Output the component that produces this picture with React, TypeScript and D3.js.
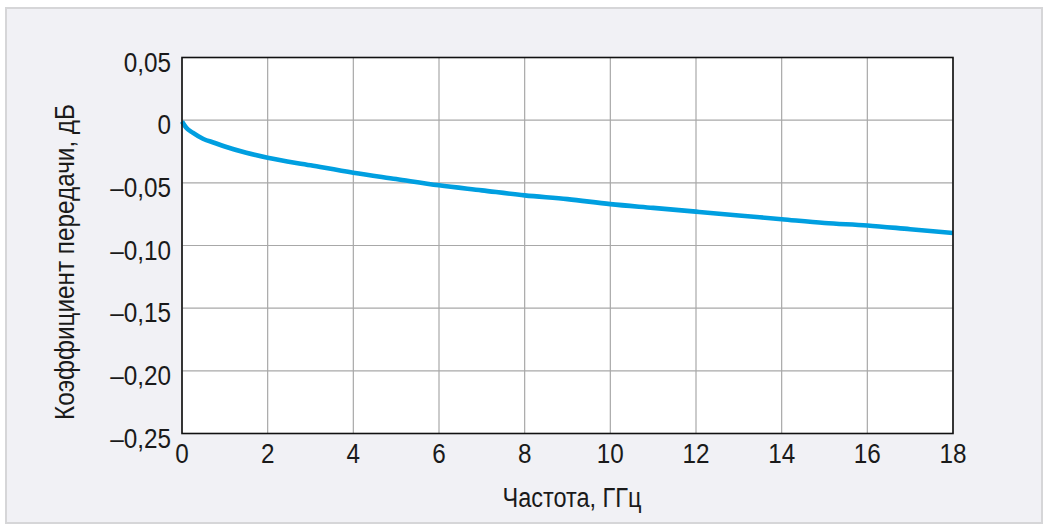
import React from "react";
import * as d3 from "d3";

const freqGHz = [0, 0.1, 0.25, 0.5, 0.75, 1, 1.5, 2, 3, 4, 5, 6, 7, 8, 9, 10, 11, 12, 13, 14, 15, 16, 17, 18];
const gainDb = [-0.001, -0.006, -0.010, -0.015, -0.018, -0.021, -0.026, -0.030, -0.036, -0.042, -0.047, -0.052, -0.056, -0.060, -0.063, -0.067, -0.070, -0.073, -0.076, -0.079, -0.082, -0.084, -0.087, -0.090];
const xTicks = [0, 2, 4, 6, 8, 10, 12, 14, 16, 18];
const yTicks = [0.05, 0, -0.05, -0.1, -0.15, -0.2, -0.25];
const yTickLabels = ["0,05", "0", "–0,05", "–0,10", "–0,15", "–0,20", "–0,25"];
const xTitle = "Частота, ГГц";
const yTitle = "Коэффициент передачи, дБ";

const W = 1049, H = 529;
const L = 182, R = 953, T = 57.5, B = 433.5;
const FONT = "'Liberation Sans', Arial, sans-serif";
const FS = 27;
const SX = 0.9;

export default function App() {
  const x = d3.scaleLinear().domain([0, 18]).range([L, R]);
  const y = d3.scaleLinear().domain([-0.25, 0.05]).range([B, T]);
  const line = d3.line<number>()
    .x((_, i) => x(freqGHz[i]))
    .y((d) => y(d))
    .curve(d3.curveMonotoneX);
  return (
    <svg width={W} height={H} style={{ position: "absolute", left: 0, top: 0 }}>
      <rect x={0} y={0} width={W} height={H} fill="#ffffff" />
      <rect x={6} y={8} width={1036} height={515} fill="#f1f1f5" stroke="#d6d6d8" strokeWidth={2} />
      <rect x={L} y={T} width={R - L} height={B - T} fill="#ffffff" />
      {xTicks.map((t) => (
        <line key={"gx" + t} x1={x(t)} x2={x(t)} y1={T} y2={B} stroke="#a8a8a8" strokeWidth={1.2} />
      ))}
      {yTicks.map((t) => (
        <line key={"gy" + t} x1={L} x2={R} y1={y(t)} y2={y(t)} stroke="#a8a8a8" strokeWidth={1.2} />
      ))}
      <path d={line(gainDb) || ""} fill="none" stroke="#009fe0" strokeWidth={4.6} strokeLinejoin="round" />
      <rect x={L} y={T} width={R - L} height={B - T} fill="none" stroke="#111" strokeWidth={1.6} />
      {yTicks.map((t, i) => (
        <text key={"ly" + t} transform={`translate(171,${y(t) + 14}) scale(${SX},1)`} textAnchor="end" fontFamily={FONT} fontSize={FS} fill="#1a1a1a">
          {yTickLabels[i]}
        </text>
      ))}
      {xTicks.map((t) => (
        <text key={"lx" + t} transform={`translate(${x(t)},462.5) scale(${SX},1)`} textAnchor="middle" fontFamily={FONT} fontSize={FS} fill="#1a1a1a">
          {t}
        </text>
      ))}
      <text transform={`translate(572,507) scale(0.87,1)`} textAnchor="middle" fontFamily={FONT} fontSize={FS} fill="#1a1a1a">
        {xTitle}
      </text>
      <text transform={`translate(74,262) rotate(-90) scale(${SX},1)`} textAnchor="middle" fontFamily={FONT} fontSize={FS} fill="#1a1a1a">
        {yTitle}
      </text>
    </svg>
  );
}
